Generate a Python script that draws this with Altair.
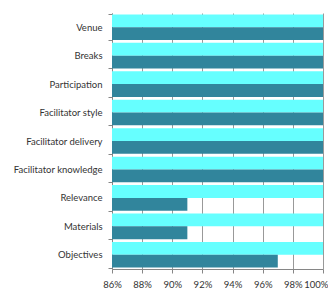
import altair as alt
import pandas as pd

categories = ["Venue", "Breaks", "Participation", "Facilitator style",
              "Facilitator delivery", "Facilitator knowledge", "Relevance",
              "Materials", "Objectives"]
series_names = ["Series 1", "Series 2"]
series1 = [1.00, 1.00, 1.00, 1.00, 1.00, 1.00, 1.00, 1.00, 1.00]
series2 = [1.00, 1.00, 1.00, 1.00, 1.00, 1.00, 0.91, 0.91, 0.97]
x_ticks = [0.86, 0.88, 0.90, 0.92, 0.94, 0.96, 0.98, 1.00]
colors = ["#66FFFF", "#31859C"]

rows = []
for c, a, b in zip(categories, series1, series2):
    rows.append({"category": c, "series": series_names[0], "value": a})
    rows.append({"category": c, "series": series_names[1], "value": b})
df = pd.DataFrame(rows)

font = "Lato"
chart = alt.Chart(df).mark_bar(clip=True).encode(
    y=alt.Y("category:N", sort=categories, title=None,
            scale=alt.Scale(paddingInner=0.1, paddingOuter=0.05),
            axis=alt.Axis(tickBand="extent", tickSize=4, tickColor="#868686",
                          domainColor="#868686", labelFont=font, labelFontSize=9.5,
                          labelColor="#333333", labelPadding=6, grid=False)),
    yOffset=alt.YOffset("series:N", sort=series_names),
    x=alt.X("value:Q", title=None,
            scale=alt.Scale(domain=[0.86, 1.0], zero=False, nice=False),
            axis=alt.Axis(values=x_ticks, format=".0%", tickSize=4,
                          tickColor="#868686", domainColor="#868686",
                          gridColor="#999999", labelFont=font, labelFontSize=9.5,
                          labelColor="#333333", labelPadding=6, labelFlush=False,
                          labelAlign={"condition": {"test": "datum.value >= 0.999", "value": "right"},
                                      "value": "center"},
                          labelOffset={"condition": {"test": "datum.value >= 0.999", "value": 5},
                                       "value": 0})),
    color=alt.Color("series:N", sort=series_names,
                    scale=alt.Scale(domain=series_names, range=colors), legend=None),
).properties(
    width=211, height=256,
    autosize=alt.AutoSizeParams(type="none"),
    padding={"left": 104, "top": 5, "right": 5, "bottom": 24},
).configure_view(stroke=None)

chart.save("out.html", embed_options={"renderer": "svg", "actions": False})
